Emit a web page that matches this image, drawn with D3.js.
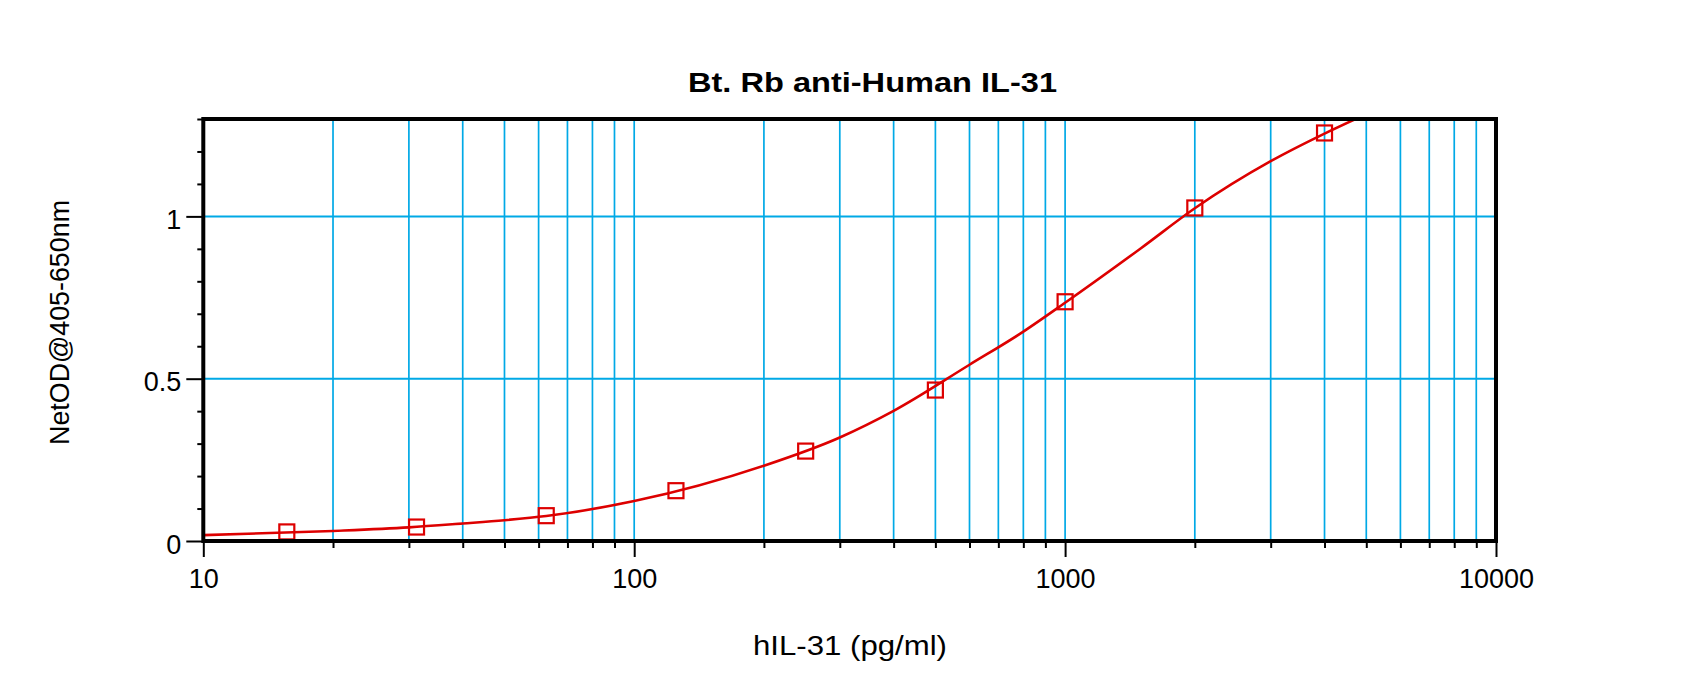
<!DOCTYPE html>
<html>
<head>
<meta charset="utf-8">
<script src="https://cdn.jsdelivr.net/npm/d3@7"></script>
<style>
  body { margin: 0; background: #fff; }
  text { font-family: "Liberation Sans", Arial, sans-serif; fill: #000; }
</style>
</head>
<body>
<script>
'use strict';

// standards, pg/ml
const concentrations = [15.625, 31.25, 62.5, 125, 250, 500, 1000, 2000, 4000];
// measured NetOD@405-650nm
const netOD = [0.028, 0.043, 0.078, 0.155, 0.277, 0.465, 0.737, 1.026, 1.257];

// fitted curve
const curveX = [10, 20, 30, 40, 50, 62.5, 100, 200, 300, 400, 600, 800, 1000, 1500, 2000, 3000, 4000, 5000];
const curveY = [0.018, 0.031, 0.042, 0.054, 0.064, 0.077, 0.123, 0.232, 0.319, 0.401, 0.543, 0.645, 0.734, 0.902, 1.025, 1.170, 1.255, 1.315];

const xMajor = [10, 100, 1000, 10000];
const xMinor = [20, 30, 40, 50, 60, 70, 80, 90, 200, 300, 400, 500, 600, 700, 800, 900,
                2000, 3000, 4000, 5000, 6000, 7000, 8000, 9000];
const yMajor = [0, 0.5, 1];
const yMinor = [0.1, 0.2, 0.3, 0.4, 0.6, 0.7, 0.8, 0.9, 1.1, 1.2, 1.3];
const xGrid = [20, 30, 40, 50, 60, 70, 80, 90, 100, 200, 300, 400, 500, 600, 700, 800, 900,
               1000, 2000, 3000, 4000, 5000, 6000, 7000, 8000, 9000];
const yGrid = [0.5, 1];

const width = 1700, height = 679;
const plot = {left: 203.3, right: 1496, top: 119, bottom: 541};
const red = "#dd0000", blue = "#00a9e6";

const svg = d3.select("body").append("svg")
  .attr("width", width)
  .attr("height", height);

const x = d3.scaleLog().domain([10, 10000]).range([plot.left, plot.right]);
const y = d3.scaleLinear().domain([0, 1.3]).range([plot.bottom, plot.top]);

svg.append("clipPath").attr("id", "plotArea")
  .append("rect")
  .attr("x", plot.left).attr("y", plot.top)
  .attr("width", plot.right - plot.left).attr("height", plot.bottom - plot.top);

// grid
svg.append("g").selectAll("line")
  .data(xGrid).enter().append("line")
  .attr("x1", d => x(d)).attr("x2", d => x(d))
  .attr("y1", plot.top).attr("y2", plot.bottom)
  .attr("stroke", blue).attr("stroke-width", 1.7);

svg.append("g").selectAll("line")
  .data(yGrid).enter().append("line")
  .attr("x1", plot.left).attr("x2", plot.right)
  .attr("y1", d => y(d)).attr("y2", d => y(d))
  .attr("stroke", blue).attr("stroke-width", 2);

// fitted curve
const line = d3.line()
  .x(d => x(d[0]))
  .y(d => y(d[1]))
  .curve(d3.curveMonotoneX);

svg.append("path")
  .datum(d3.zip(curveX, curveY))
  .attr("clip-path", "url(#plotArea)")
  .attr("d", line)
  .attr("fill", "none")
  .attr("stroke", red)
  .attr("stroke-width", 2.6);

// standards
const sq = 15;
svg.append("g").selectAll("rect")
  .data(d3.zip(concentrations, netOD)).enter().append("rect")
  .attr("x", d => x(d[0]) - sq / 2)
  .attr("y", d => y(d[1]) - sq / 2)
  .attr("width", sq).attr("height", sq)
  .attr("fill", "none")
  .attr("stroke", red)
  .attr("stroke-width", 2.2);

// axes
function styleAxis(g) {
  g.select(".domain").remove();
  g.selectAll(".tick line").attr("stroke", "#000").attr("stroke-width", 2);
  g.selectAll(".tick text").style("font-size", "27px");
}

svg.append("g")
  .attr("transform", `translate(0,${plot.bottom})`)
  .call(d3.axisBottom(x).tickValues(xMinor).tickSize(7).tickFormat(""))
  .call(styleAxis);

svg.append("g")
  .attr("transform", `translate(0,${plot.bottom})`)
  .call(d3.axisBottom(x).tickValues(xMajor).tickSize(16).tickPadding(12).tickFormat(d3.format("d")))
  .call(styleAxis);

svg.append("g")
  .attr("transform", `translate(${plot.left},0)`)
  .call(d3.axisLeft(y).tickValues(yMinor).tickSize(6).tickFormat(""))
  .call(styleAxis);

svg.append("g")
  .attr("transform", `translate(${plot.left},0)`)
  .call(d3.axisLeft(y).tickValues(yMajor).tickSize(17).tickPadding(5).tickFormat(d => d === 0.5 ? "0.5" : d3.format("d")(d)))
  .call(styleAxis)
  .selectAll(".tick text").attr("dy", "0.45em");

// frame
svg.append("rect")
  .attr("x", plot.left).attr("y", plot.top)
  .attr("width", plot.right - plot.left).attr("height", plot.bottom - plot.top)
  .attr("fill", "none")
  .attr("stroke", "#000")
  .attr("stroke-width", 4);

// titles
svg.append("text")
  .attr("x", 872.5).attr("y", 92)
  .attr("text-anchor", "middle")
  .attr("textLength", 369).attr("lengthAdjust", "spacingAndGlyphs")
  .style("font-size", "28px").style("font-weight", "bold")
  .text("Bt. Rb anti-Human IL-31");

svg.append("text")
  .attr("x", 850).attr("y", 655)
  .attr("text-anchor", "middle")
  .attr("textLength", 194).attr("lengthAdjust", "spacingAndGlyphs")
  .style("font-size", "27px")
  .text("hIL-31 (pg/ml)");

svg.append("text")
  .attr("transform", "translate(69,322.5) rotate(-90)")
  .attr("text-anchor", "middle")
  .attr("textLength", 245).attr("lengthAdjust", "spacingAndGlyphs")
  .style("font-size", "27px")
  .text("NetOD@405-650nm");
</script>
</body>
</html>
